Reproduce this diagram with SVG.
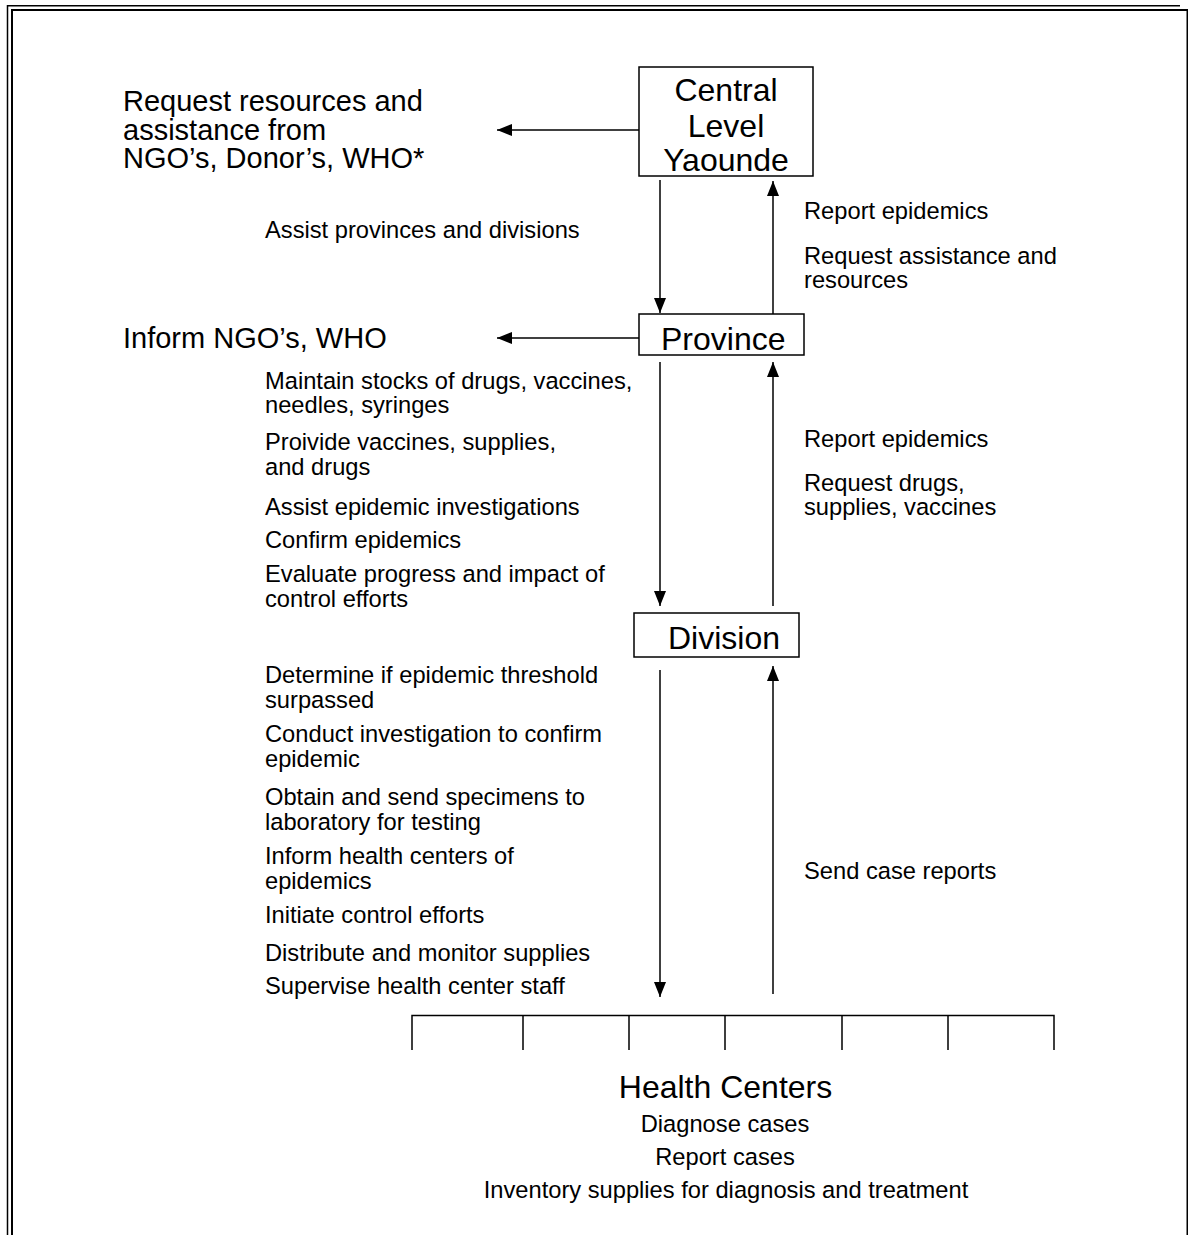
<svg xmlns="http://www.w3.org/2000/svg" width="1188" height="1235" viewBox="0 0 1188 1235">
<style>
text{font-family:"Liberation Sans",Arial,sans-serif;fill:#000}
.big{font-size:29px}
.box{font-size:32px}
.sm{font-size:23.7px}
.mid{text-anchor:middle}
.nb{fill:#fff;stroke:#000;stroke-width:1.5}
.ln{fill:none;stroke:#000;stroke-width:1.5}
</style>
<defs>
<marker id="ah" markerUnits="userSpaceOnUse" markerWidth="16" markerHeight="12" refX="15" refY="6" orient="auto">
<path d="M0,0 L15,6 L0,12 z" fill="#000"/>
</marker>
</defs>
<rect width="1188" height="1235" fill="#fff"/>
<g id="border">
<path d="M7.5,1235 V5.75 H1180" fill="none" stroke="#000" stroke-width="1.5"/>
<path d="M12,1235 V10 H1187.5 V1235" fill="none" stroke="#000" stroke-width="2"/>
</g>
<g id="connectors" class="ln">
<line x1="639" y1="130" x2="497" y2="130" marker-end="url(#ah)"/>
<line x1="660" y1="180" x2="660" y2="313" marker-end="url(#ah)"/>
<line x1="773" y1="314" x2="773" y2="181" marker-end="url(#ah)"/>
<line x1="639" y1="338" x2="497" y2="338" marker-end="url(#ah)"/>
<line x1="660" y1="362" x2="660" y2="606" marker-end="url(#ah)"/>
<line x1="773" y1="606" x2="773" y2="362" marker-end="url(#ah)"/>
<line x1="660" y1="670" x2="660" y2="997" marker-end="url(#ah)"/>
<line x1="773" y1="994" x2="773" y2="666" marker-end="url(#ah)"/>
<path d="M412,1050 V1015.5 H1054 V1050 M523,1015.5 V1050 M629,1015.5 V1050 M725,1015.5 V1050 M842,1015.5 V1050 M948,1015.5 V1050"/>
</g>
<g id="central">
<rect class="nb" x="639" y="67" width="174" height="109"/>
<text class="box mid" x="726" y="101">Central</text>
<text class="box mid" x="726" y="137">Level</text>
<text class="box mid" x="726" y="171">Yaounde</text>
</g>
<g id="province">
<rect class="nb" x="639" y="314" width="165" height="41"/>
<text class="box" x="661" y="350">Province</text>
</g>
<g id="division">
<rect class="nb" x="634" y="613" width="165" height="44"/>
<text class="box" x="668" y="649">Division</text>
</g>
<g id="health-centers">
<text class="box mid" x="725.5" y="1098">Health Centers</text>
<text class="sm mid" x="725" y="1132">Diagnose cases</text>
<text class="sm mid" x="725" y="1165">Report cases</text>
<text class="sm mid" x="726" y="1198">Inventory supplies for diagnosis and treatment</text>
</g>
<g id="external-request">
<text class="big" x="123" y="111">Request resources and</text>
<text class="big" x="123" y="140">assistance from</text>
<text class="big" x="123" y="168">NGO’s, Donor’s, WHO*</text>
</g>
<g id="external-inform">
<text class="big" x="123" y="348">Inform NGO’s, WHO</text>
</g>
<g id="labels-left" class="sm">
<text class="sm" x="265" y="238">Assist provinces and divisions</text>
<text class="sm" x="265" y="389">Maintain stocks of drugs, vaccines,</text>
<text class="sm" x="265" y="413">needles, syringes</text>
<text class="sm" x="265" y="450">Proivide vaccines, supplies,</text>
<text class="sm" x="265" y="475">and drugs</text>
<text class="sm" x="265" y="515">Assist epidemic investigations</text>
<text class="sm" x="265" y="548">Confirm epidemics</text>
<text class="sm" x="265" y="582">Evaluate progress and impact of</text>
<text class="sm" x="265" y="607">control efforts</text>
<text class="sm" x="265" y="683">Determine if epidemic threshold</text>
<text class="sm" x="265" y="708">surpassed</text>
<text class="sm" x="265" y="742">Conduct investigation to confirm</text>
<text class="sm" x="265" y="767">epidemic</text>
<text class="sm" x="265" y="805">Obtain and send specimens to</text>
<text class="sm" x="265" y="830">laboratory for testing</text>
<text class="sm" x="265" y="864">Inform health centers of</text>
<text class="sm" x="265" y="889">epidemics</text>
<text class="sm" x="265" y="923">Initiate control efforts</text>
<text class="sm" x="265" y="961">Distribute and monitor supplies</text>
<text class="sm" x="265" y="994">Supervise health center staff</text>
</g>
<g id="labels-right">
<text class="sm" x="804" y="219">Report epidemics</text>
<text class="sm" x="804" y="264">Request assistance and</text>
<text class="sm" x="804" y="288">resources</text>
<text class="sm" x="804" y="447">Report epidemics</text>
<text class="sm" x="804" y="491">Request drugs,</text>
<text class="sm" x="804" y="515">supplies, vaccines</text>
<text class="sm" x="804" y="879">Send case reports</text>
</g>
</svg>
